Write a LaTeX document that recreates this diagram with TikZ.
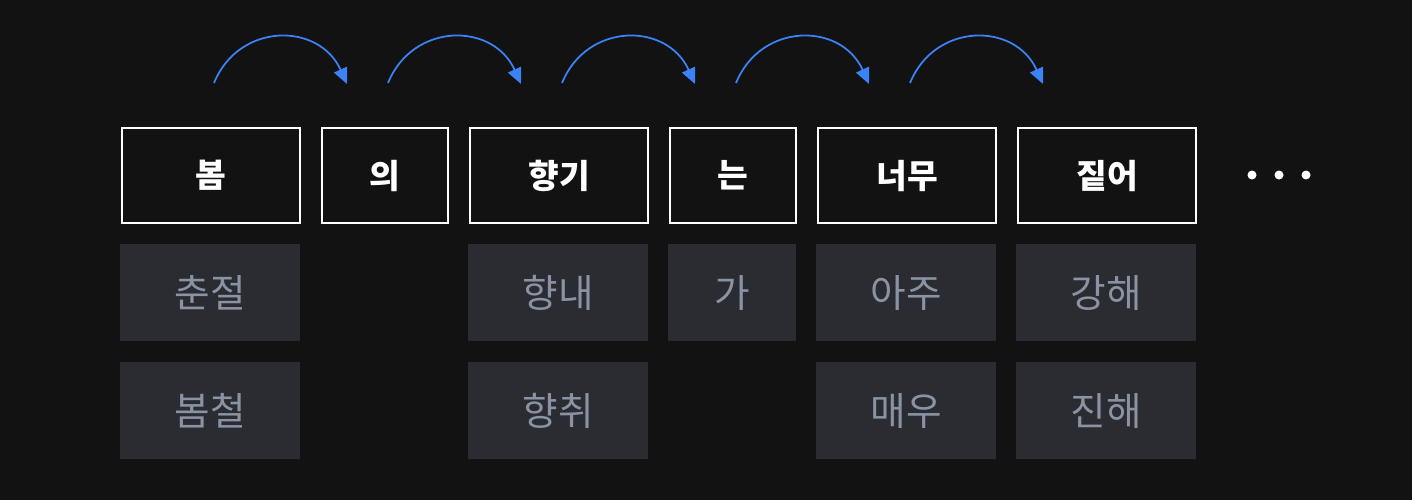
\documentclass[tikz,border=0pt]{standalone}
\usepackage{fontspec}
\setmainfont{Noto Sans CJK KR}
\usetikzlibrary{arrows.meta}
\definecolor{bg}{HTML}{121212}
\definecolor{cell}{HTML}{2A2C31}
\definecolor{gtext}{HTML}{8A93A3}
\definecolor{arcblue}{HTML}{3B82F6}
\begin{document}
\begin{tikzpicture}[x=0.02cm,y=-0.02cm,
  word/.style={draw=white,line width=1.2pt,fill=bg,text=white,font=\fontsize{19}{22}\selectfont\bfseries,inner sep=0pt,anchor=north west},
  alt/.style={fill=cell,text=gtext,font=\fontsize{22}{26}\selectfont,inner sep=0pt,anchor=north west},
  arc/.style={draw=arcblue,line width=1pt,-{Triangle[length=9pt,width=8pt]}}]
\fill[bg] (0,0) rectangle (1412,500);
\useasboundingbox (0,0) rectangle (1412,500);
\newcommand{\wbox}[5]{\node[word,minimum width=#3*0.02cm,minimum height=95*0.02cm] (#1) at (#2,127) {#4};}
\wbox{w1}{121}{178}{봄}{}
\wbox{w2}{321}{126}{의}{}
\wbox{w3}{469}{178}{향기}{}
\wbox{w4}{669}{126}{는}{}
\wbox{w5}{817}{178}{너무}{}
\wbox{w6}{1017}{178}{짙어}{}
\newcommand{\abox}[5]{\node[alt,minimum width=#3*0.02cm,minimum height=97*0.02cm] (#1) at (#2,#4) {#5};}
\abox{a1}{120}{180}{244}{춘절}
\abox{b1}{120}{180}{362}{봄철}
\abox{a3}{468}{180}{244}{향내}
\abox{b3}{468}{180}{362}{향취}
\abox{a4}{668}{128}{244}{가}
\abox{a5}{816}{180}{244}{아주}
\abox{b5}{816}{180}{362}{매우}
\abox{a6}{1016}{180}{244}{강해}
\abox{b6}{1016}{180}{362}{진해}
\foreach \i/\x in {1/1252,2/1279,3/1306}{\fill[white] (\x,175) circle (4.5*0.02cm) coordinate (d\i);}
\foreach \i/\s in {1/214,2/388,3/562,4/736,5/910}{
  \coordinate (s\i) at (\s,83);
  \coordinate (e\i) at (\s+133,84);
  \draw[arc] (s\i) .. controls (\s+25,22) and (\s+105,22) .. (e\i);
}
\end{tikzpicture}
\end{document}
